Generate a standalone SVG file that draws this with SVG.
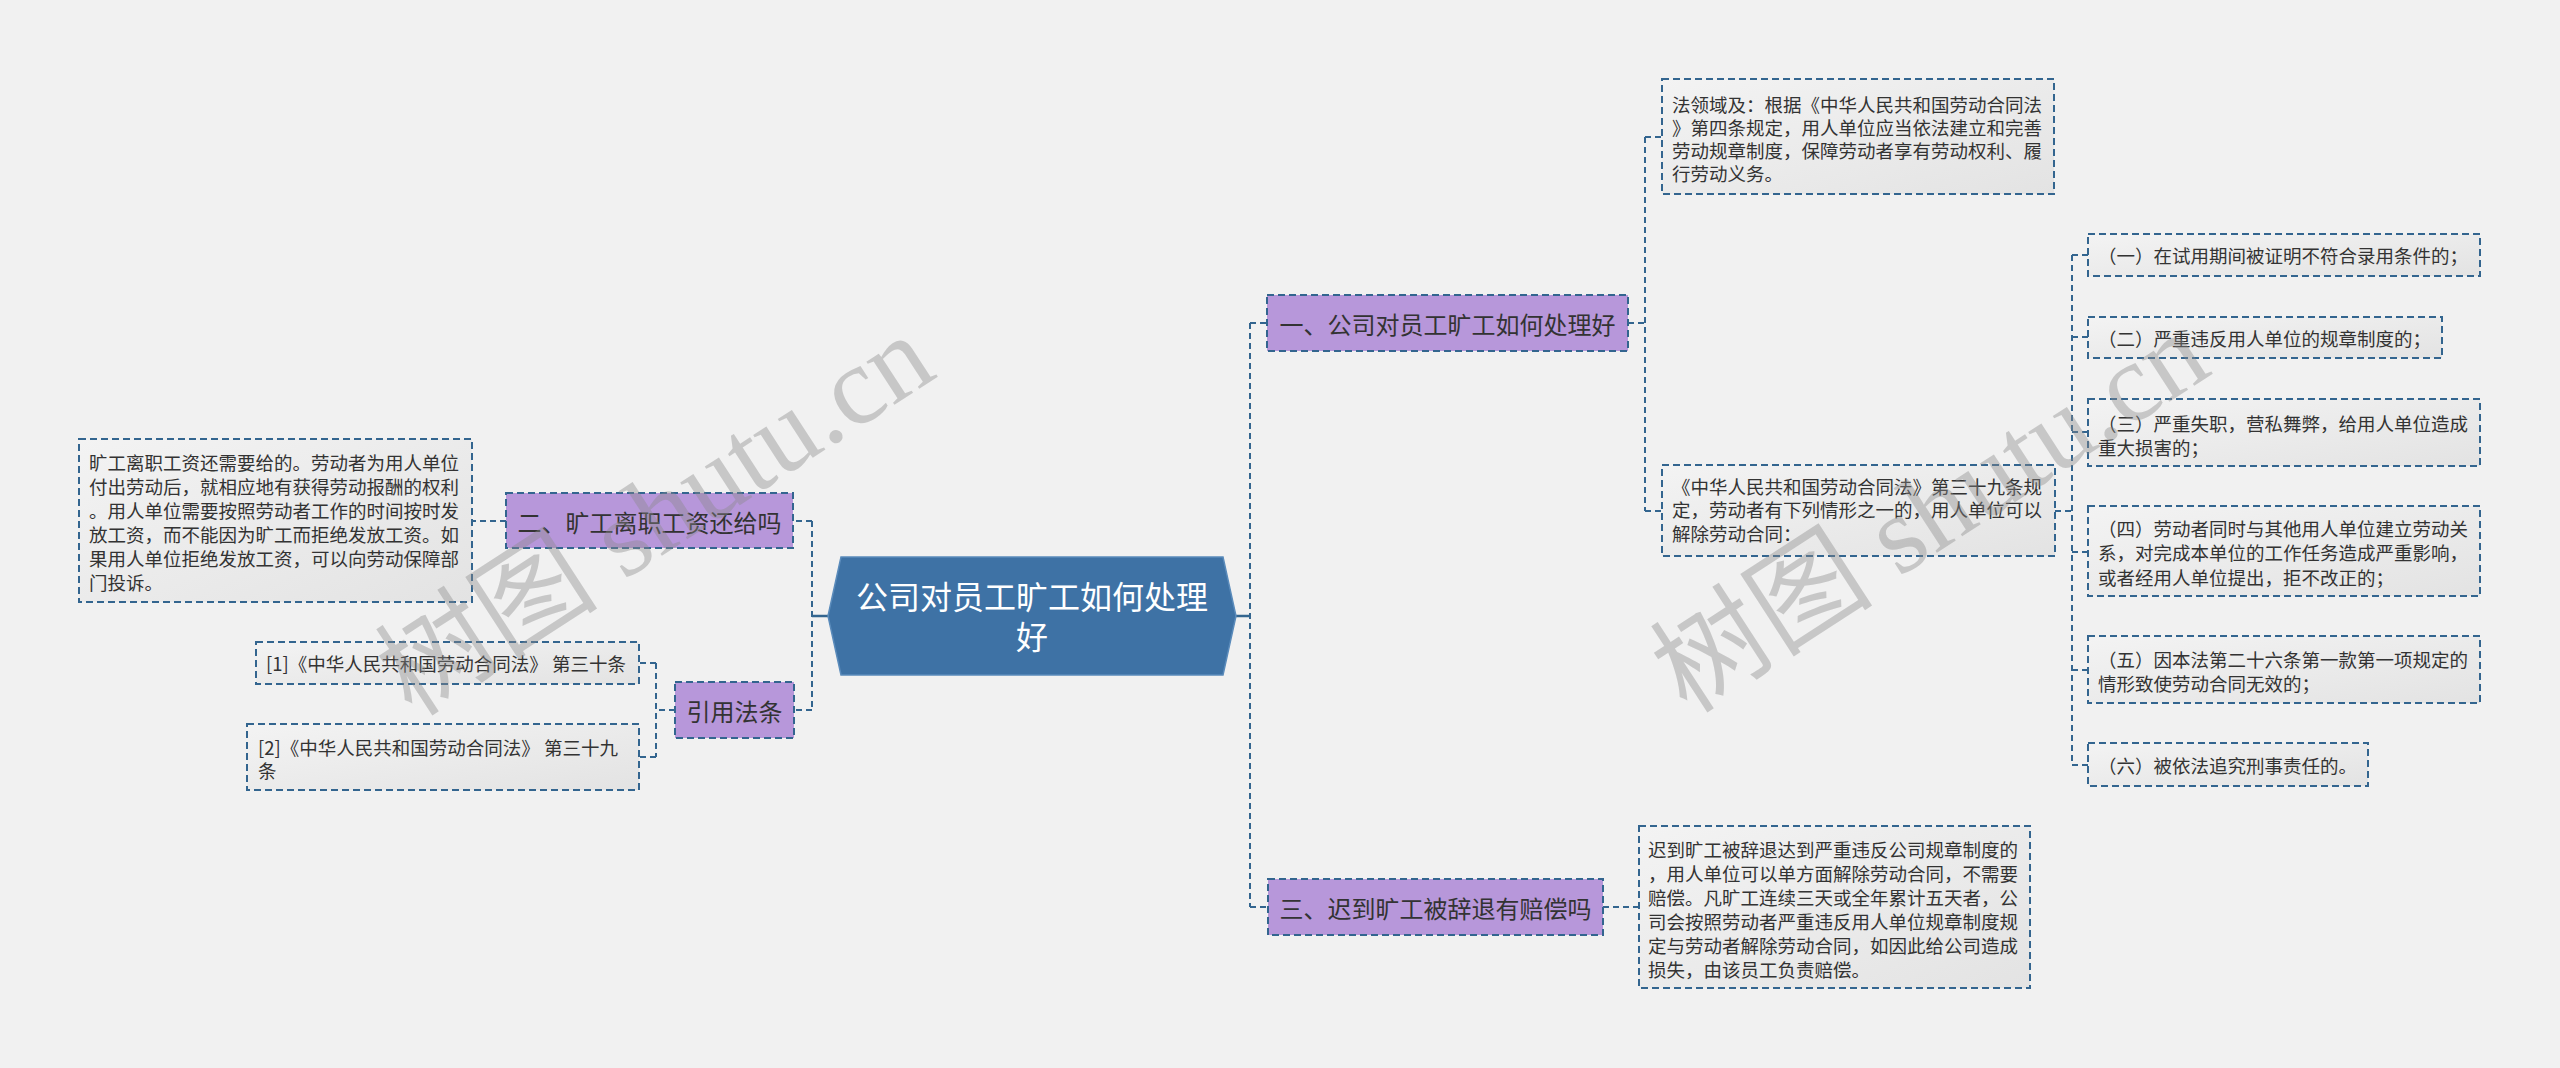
<svg xmlns="http://www.w3.org/2000/svg" width="2560" height="1068" viewBox="0 0 2560 1068">
<defs>
<linearGradient id="g" x1="0" y1="0" x2="1" y2="1">
<stop offset="0" stop-color="#f3f3f3"/>
<stop offset="1" stop-color="#e3e3e3"/>
</linearGradient>
<style>
.bg{fill:#f1f1f1}
.box{fill:url(#g);stroke:#33658f;stroke-width:2;stroke-dasharray:7 4}
.pur{fill:#b797da;stroke:#33658f;stroke-width:2;stroke-dasharray:7 4}
.t{font-family:"Noto Sans CJK SC","Noto Sans",sans-serif;font-size:18.5px;fill:#333;dominant-baseline:central}
.m{font-family:"Noto Sans CJK SC","Noto Sans",sans-serif;font-size:24px;fill:#333;dominant-baseline:central;text-anchor:middle}
.c{font-family:"Noto Sans CJK SC","Noto Sans",sans-serif;font-size:32px;fill:#fff;dominant-baseline:central;text-anchor:middle}
.ln{fill:none;stroke:#33658f;stroke-width:2;stroke-dasharray:6 4}
.sl{fill:none;stroke:#33658f;stroke-width:2.5}
.wm{font-family:"Liberation Serif","Noto Sans CJK SC",serif;font-size:112px;fill:#8a8a8a;fill-opacity:0.4;text-anchor:middle;dominant-baseline:central}
</style>
</defs>
<rect class="bg" x="0" y="0" width="2560" height="1068"/>

<g id="connectors">
<path class="sl" d="M828 616H812"/>
<path class="ln" d="M812 521V710M812 521H793M812 710H794"/>
<path class="ln" d="M506 521H472"/>
<path class="ln" d="M675 710H656M656 663V757M656 663H639M656 757H639"/>
<path class="sl" d="M1236 616H1250"/>
<path class="ln" d="M1250 323V907M1250 323H1267M1250 907H1268"/>
<path class="ln" d="M1628 323H1645M1645 137V511M1645 137H1662M1645 511H1662"/>
<path class="ln" d="M2055 511H2072M2072 255V765M2072 255H2088M2072 337H2088M2072 432H2088M2072 552H2088M2072 670H2088M2072 765H2088"/>
<path class="ln" d="M1603 907H1639"/>
</g>

<g id="root">
<polygon points="828,616 841,557 1223,557 1236,616 1223,675 841,675" fill="#3e72a5" stroke="#5a8bbb" stroke-width="1.5"/>
<text class="c" x="1032" y="595">公司对员工旷工如何处理</text>
<text class="c" x="1032" y="635">好</text>
</g>

<g id="n-er">
<rect class="pur" x="506" y="493" width="287" height="55"/>
<text class="m" x="649.5" y="521">二、旷工离职工资还给吗</text>
</g>
<g id="n-er-text">
<rect class="box" x="79" y="439" width="393" height="163"/>
<text class="t" x="89" y="462">旷工离职工资还需要给的。劳动者为用人单位</text>
<text class="t" x="89" y="486">付出劳动后，就相应地有获得劳动报酬的权利</text>
<text class="t" x="89" y="510">。用人单位需要按照劳动者工作的时间按时发</text>
<text class="t" x="89" y="534">放工资，而不能因为旷工而拒绝发放工资。如</text>
<text class="t" x="89" y="558">果用人单位拒绝发放工资，可以向劳动保障部</text>
<text class="t" x="89" y="582">门投诉。</text>
</g>
<g id="n-ref">
<rect class="pur" x="675" y="682" width="119" height="56"/>
<text class="m" x="734.5" y="710">引用法条</text>
</g>
<g id="n-ref1">
<rect class="box" x="256" y="642" width="383" height="42"/>
<text class="t" x="266" y="663">[1]《中华人民共和国劳动合同法》 第三十条</text>
</g>
<g id="n-ref2">
<rect class="box" x="247" y="724" width="392" height="66"/>
<text class="t" x="258" y="747">[2]《中华人民共和国劳动合同法》 第三十九</text>
<text class="t" x="258" y="770">条</text>
</g>

<g id="n-yi">
<rect class="pur" x="1267" y="295" width="361" height="56"/>
<text class="m" x="1447.5" y="323">一、公司对员工旷工如何处理好</text>
</g>
<g id="n-yi-1">
<rect class="box" x="1662" y="79" width="392" height="115"/>
<text class="t" x="1672" y="104">法领域及：根据《中华人民共和国劳动合同法</text>
<text class="t" x="1672" y="127">》第四条规定，用人单位应当依法建立和完善</text>
<text class="t" x="1672" y="150">劳动规章制度，保障劳动者享有劳动权利、履</text>
<text class="t" x="1672" y="173">行劳动义务。</text>
</g>
<g id="n-yi-2">
<rect class="box" x="1662" y="465" width="393" height="91"/>
<text class="t" x="1672" y="486">《中华人民共和国劳动合同法》第三十九条规</text>
<text class="t" x="1672" y="509">定，劳动者有下列情形之一的，用人单位可以</text>
<text class="t" x="1672" y="533">解除劳动合同：</text>
</g>
<g id="c1">
<rect class="box" x="2088" y="234" width="392" height="42"/>
<text class="t" x="2098" y="255">（一）在试用期间被证明不符合录用条件的；</text>
</g>
<g id="c2">
<rect class="box" x="2088" y="317" width="354" height="41"/>
<text class="t" x="2098" y="338">（二）严重违反用人单位的规章制度的；</text>
</g>
<g id="c3">
<rect class="box" x="2088" y="399" width="392" height="67"/>
<text class="t" x="2098" y="423">（三）严重失职，营私舞弊，给用人单位造成</text>
<text class="t" x="2098" y="447">重大损害的；</text>
</g>
<g id="c4">
<rect class="box" x="2088" y="506" width="392" height="90"/>
<text class="t" x="2098" y="528">（四）劳动者同时与其他用人单位建立劳动关</text>
<text class="t" x="2098" y="552">系，对完成本单位的工作任务造成严重影响，</text>
<text class="t" x="2098" y="577">或者经用人单位提出，拒不改正的；</text>
</g>
<g id="c5">
<rect class="box" x="2088" y="636" width="392" height="67"/>
<text class="t" x="2098" y="659">（五）因本法第二十六条第一款第一项规定的</text>
<text class="t" x="2098" y="683">情形致使劳动合同无效的；</text>
</g>
<g id="c6">
<rect class="box" x="2088" y="743" width="280" height="43"/>
<text class="t" x="2098" y="765">（六）被依法追究刑事责任的。</text>
</g>

<g id="n-san">
<rect class="pur" x="1268" y="879" width="335" height="56"/>
<text class="m" x="1435.5" y="907">三、迟到旷工被辞退有赔偿吗</text>
</g>
<g id="n-san-text">
<rect class="box" x="1639" y="826" width="391" height="162"/>
<text class="t" x="1648" y="849">迟到旷工被辞退达到严重违反公司规章制度的</text>
<text class="t" x="1648" y="873">，用人单位可以单方面解除劳动合同，不需要</text>
<text class="t" x="1648" y="897">赔偿。凡旷工连续三天或全年累计五天者，公</text>
<text class="t" x="1648" y="921">司会按照劳动者严重违反用人单位规章制度规</text>
<text class="t" x="1648" y="945">定与劳动者解除劳动合同，如因此给公司造成</text>
<text class="t" x="1648" y="969">损失，由该员工负责赔偿。</text>
</g>

<g id="watermarks">
<text class="wm" transform="translate(655 515) rotate(-33)">树图 shutu.cn</text>
<text class="wm" transform="translate(1930 512) rotate(-33)">树图 shutu.cn</text>
</g>
</svg>
